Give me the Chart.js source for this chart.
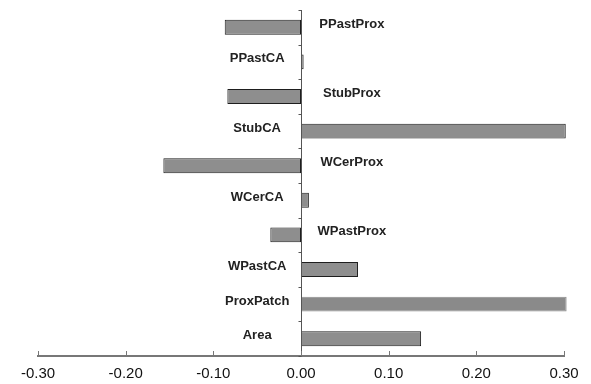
<!DOCTYPE html><html lang="en">
<head>
  <meta charset="UTF-8">
  <title>Coefficient bars</title>
  <script src="https://cdn.jsdelivr.net/npm/chart.js"></script>
  <style>
    body {
      margin: 0;
      background-color: #fff;
    }
    #chartBox {
      width: 591px;
      height: 384px;
    }
  </style>
</head>
<body>
  <div id="chartBox">
    <canvas id="coefChart" width="591" height="384"></canvas>
  </div>
  <script>
    // categories top to bottom
    const categories = [
      "PPastProx", "PPastCA", "StubProx", "StubCA", "WCerProx",
      "WCerCA", "WPastProx", "WPastCA", "ProxPatch", "Area"
    ];
    const values = [-0.087, 0.003, -0.084, 0.302, -0.157, 0.009, -0.035, 0.065, 0.303, 0.137];
    // which side of the zero line each name is written on
    const labelSide = ["right", "left", "right", "left", "right", "left", "right", "left", "left", "left"];
    const xTicks = [-0.3, -0.2, -0.1, 0, 0.1, 0.2, 0.3];

    const axisGray = '#777';

    const labelsAndAxes = {
      id: 'labelsAndAxes',
      afterDatasetsDraw(chart) {
        const ctx = chart.ctx;
        const x = chart.scales.x;
        const y = chart.scales.y;
        const area = chart.chartArea;
        const zero = Math.round(x.getPixelForValue(0)) + 0.5;
        const band = (area.bottom - area.top) / categories.length;

        ctx.save();
        // vertical axis at zero with small ticks between categories
        ctx.strokeStyle = '#555';
        ctx.lineWidth = 1;
        ctx.beginPath();
        ctx.moveTo(zero, area.top);
        ctx.lineTo(zero, area.bottom);
        for (let k = 0; k <= categories.length; k++) {
          const yy = Math.round(area.top + k * band) + 0.5;
          ctx.moveTo(zero - 3, yy);
          ctx.lineTo(zero, yy);
        }
        ctx.stroke();

        // upward tick marks on the bottom axis
        ctx.strokeStyle = axisGray;
        ctx.beginPath();
        xTicks.forEach(v => {
          const xx = Math.round(x.getPixelForValue(v)) + 0.5;
          ctx.moveTo(xx, area.bottom);
          ctx.lineTo(xx, area.bottom - 5);
        });
        ctx.stroke();

        // category names next to the bars
        ctx.fillStyle = '#222';
        ctx.font = 'bold 13px "Liberation Sans", Arial, sans-serif';
        ctx.textAlign = 'center';
        ctx.textBaseline = 'middle';
        categories.forEach((name, i) => {
          const cx = labelSide[i] === 'right' ? x.getPixelForValue(0.058) : x.getPixelForValue(-0.05);
          const cy = y.getPixelForValue(i) - 3;
          ctx.fillText(name, cx, cy);
        });
        ctx.restore();
      }
    };

    new Chart(document.getElementById("coefChart"), {
      type: 'bar',
      data: {
        labels: categories,
        datasets: [{
          data: values,
          backgroundColor: categories.map(c => c === 'ProxPatch' ? '#8a8a8a' : '#8e8e8e'),
          borderColor: categories.map(c => c === 'ProxPatch' ? '#8a8a8a' : '#1e1e1e'),
          borderWidth: 1,
          borderSkipped: false,
          categoryPercentage: 1,
          barPercentage: 0.43,
          clip: false
        }]
      },
      options: {
        indexAxis: 'y',
        responsive: false,
        animation: false,
        layout: {
          padding: { left: 38, right: 27, top: 10, bottom: -8 }
        },
        plugins: {
          legend: { display: false },
          tooltip: { enabled: false }
        },
        scales: {
          x: {
            min: -0.3,
            max: 0.3,
            afterBuildTicks(scale) {
              scale.ticks = xTicks.map(v => ({ value: v }));
            },
            grid: { display: false, drawTicks: false },
            border: { display: true, color: axisGray, width: 2 },
            ticks: {
              padding: 9,
              color: '#111',
              font: { family: '"Liberation Sans", Arial, sans-serif', size: 15 },
              callback: v => v.toFixed(2)
            }
          },
          y: {
            display: false
          }
        }
      },
      plugins: [labelsAndAxes]
    });
  </script>
</body>
</html>
